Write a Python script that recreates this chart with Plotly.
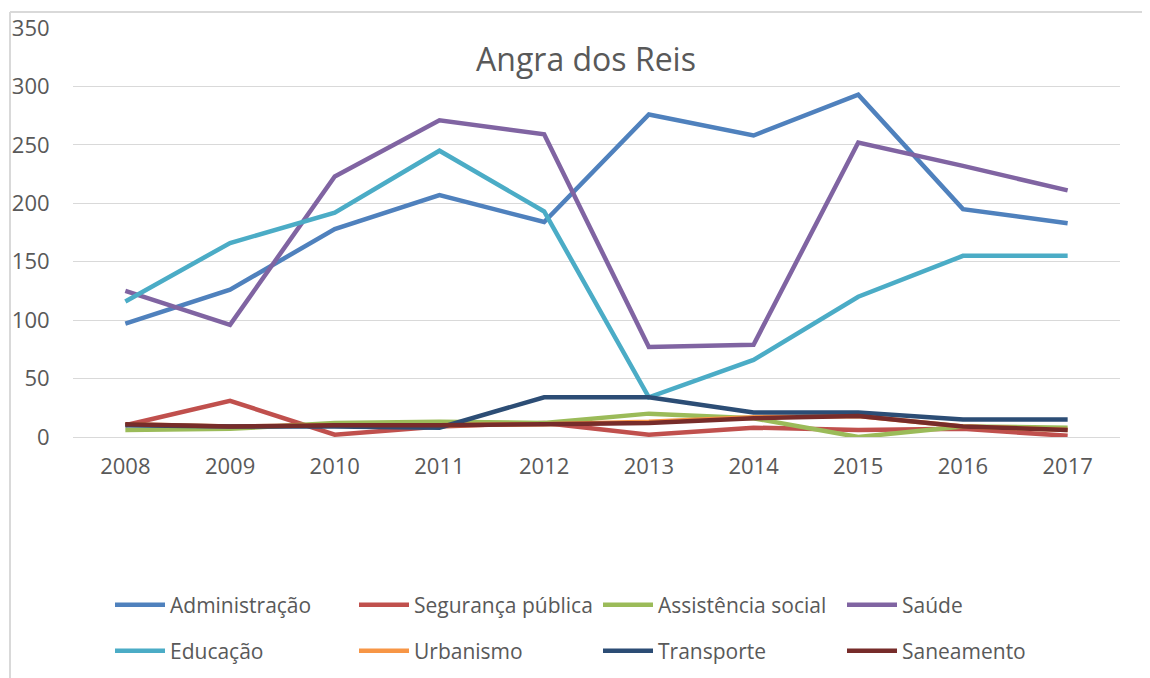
import plotly.graph_objects as go

years = ["2008", "2009", "2010", "2011", "2012", "2013", "2014", "2015", "2016", "2017"]
administracao = [97, 126, 178, 207, 184, 276, 258, 293, 195, 183]
seguranca = [10, 31, 2, 9, 12, 2, 8, 6, 7, 1]
assistencia = [6, 7, 12, 13, 12, 20, 16, 0, 9, 8]
saude = [125, 96, 223, 271, 259, 77, 79, 252, 232, 211]
educacao = [116, 166, 192, 245, 193, 34, 66, 120, 155, 155]
urbanismo = [11, 9, 10, 10, 11, 13, 17, 18, 9, 6]
transporte = [10, 9, 9, 8, 34, 34, 21, 21, 15, 15]
saneamento = [11, 9, 10, 10, 11, 12, 16, 18, 9, 6]

series = [
    ("Administração", administracao, "#4F81BD", "legend"),
    ("Segurança pública", seguranca, "#C0504D", "legend"),
    ("Assistência social", assistencia, "#9BBB59", "legend"),
    ("Saúde", saude, "#8064A2", "legend"),
    ("Educação", educacao, "#4BACC6", "legend2"),
    ("Urbanismo", urbanismo, "#F79646", "legend2"),
    ("Transporte", transporte, "#2C4D75", "legend2"),
    ("Saneamento", saneamento, "#772C2A", "legend2"),
]

FONT = "Open Sans"
GREY = "#595959"

fig = go.Figure()
for name, vals, color, lg in series:
    fig.add_trace(go.Scatter(
        x=years, y=vals, name=name, mode="lines",
        line=dict(color=color, width=4.5),
        legend=lg,
    ))

# page body adds an 8px offset; positions below are screen pixels minus that
OFF = 8
W, H = 1150, 678
L, R, T, B = 73 - OFF, 30 + OFF, 28 - OFF, 241 + OFF
pw, ph = W - L - R, H - T - B

def px_x(p):
    return (p - OFF - L) / pw

def px_y(p):
    return (H - B - (p - OFF)) / ph

legend_common = dict(
    orientation="h", xanchor="left", yanchor="middle",
    font=dict(family=FONT, size=21, color=GREY),
    itemwidth=50,
    entrywidth=179, entrywidthmode="pixels",
    bgcolor="rgba(0,0,0,0)", itemclick=False,
)

fig.update_layout(
    width=W, height=H,
    margin=dict(l=L, r=R, t=T, b=B, autoexpand=False),
    paper_bgcolor="white", plot_bgcolor="white",
    title=dict(text="Angra dos Reis", x=(586 - OFF) / W, xanchor="center",
               y=1 - (60 - OFF) / H, yanchor="middle",
               font=dict(family=FONT, size=32, color=GREY)),
    xaxis=dict(type="category", range=[-0.5, 9.5], showgrid=False, showline=False,
               zeroline=False, automargin=False,
               ticks="outside", ticklen=10, tickcolor="rgba(0,0,0,0)",
               tickfont=dict(family=FONT, size=22, color=GREY)),
    yaxis=dict(range=[0, 350], dtick=50, showgrid=True, gridcolor="#D9D9D9", gridwidth=1,
               zeroline=True, zerolinecolor="#D9D9D9", zerolinewidth=1, showline=False,
               automargin=False,
               ticks="outside", ticklen=18, tickcolor="rgba(0,0,0,0)",
               tickfont=dict(family=FONT, size=22, color=GREY)),
    legend=dict(x=px_x(110), y=px_y(605), **legend_common),
    legend2=dict(x=px_x(110), y=px_y(651), **legend_common),
    showlegend=True,
)

# chart area border (top and left edges visible in the reference)
fig.add_shape(type="line", xref="paper", yref="paper",
              x0=px_x(10), x1=px_x(1160), y0=px_y(12), y1=px_y(12),
              line=dict(color="#D9D9D9", width=2))
fig.add_shape(type="line", xref="paper", yref="paper",
              x0=px_x(10), x1=px_x(10), y0=px_y(12), y1=px_y(690),
              line=dict(color="#D9D9D9", width=2))

fig.write_html("out.html")
